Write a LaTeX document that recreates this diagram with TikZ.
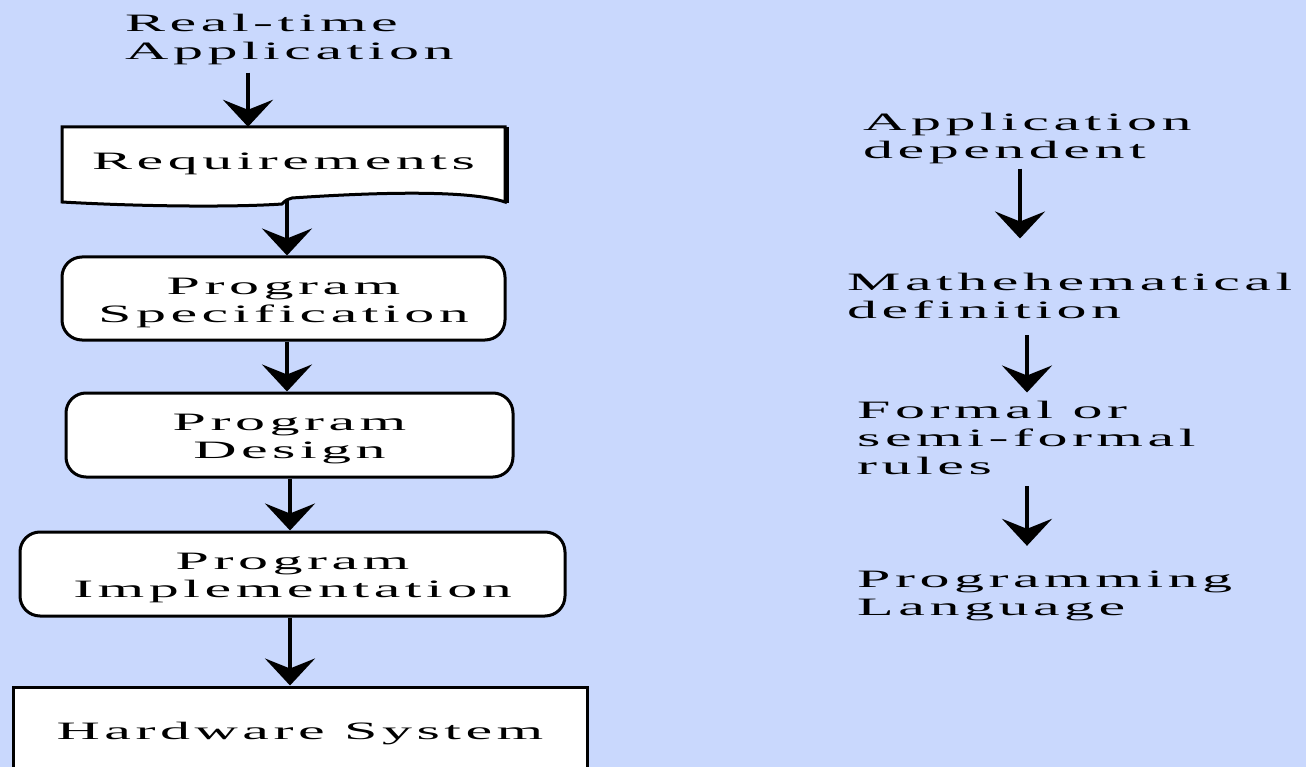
\documentclass[tikz,border=0pt]{standalone}
\usepackage{fontspec}
\setmainfont{Liberation Serif}[FakeStretch=2.4,LetterSpace=18]
\usetikzlibrary{arrows.meta}
\definecolor{bgblue}{RGB}{201,216,253}
\tikzset{
	defaultstyle/.style={
		x=1pt, y=-1pt,
		font=\fontsize{25}{28}\selectfont,
		every text node part/.style={align=center}}}

\begin{document}
\begin{tikzpicture}[defaultstyle,
	arr/.style={line width=3.5pt, -{Stealth[length=27pt,width=50pt,inset=10pt]}},
	lowtext/.style={execute at begin node={\rule{0pt}{24pt}}},
	flowbox/.style={draw, line width=3pt, fill=white, rounded corners=20pt, inner sep=0pt},
	hwbox/.style={draw, line width=3pt, fill=white, inner sep=0pt},
	boxtext/.style={inner sep=0pt, yshift=-4pt},
	note/.style={inner sep=0pt, anchor=west, every text node part/.style={align=left}},
	]

	\fill[bgblue] (0,0) rectangle (1306,767);
	\useasboundingbox (0,0) rectangle (1306,767);

	% left column
	\node[note] (rt) at (125, 39) {Real-time\\Application};

	\draw[line width=3pt, fill=white] (62,127) -- (505,127) -- (505,202)
		.. controls (470,190) and (380,192) .. (292,198)
		.. controls (286,200) .. (282,204)
		.. controls (240,207) and (150,207) .. (62,202) -- cycle;
	\draw[line width=5pt] (506,127) -- (506,203);
	\node[inner sep=0pt, minimum width=443pt, minimum height=66pt, lowtext] (req) at (283.5, 160) {Requirements};

	\node[flowbox, minimum width=443pt, minimum height=83pt] (spec) at (283.5, 298.5) {};
	\node[boxtext] (spectext) at (spec.center) {Program\\Specification};
	\node[flowbox, minimum width=447pt, minimum height=84pt] (design) at (289.5, 435) {};
	\node[boxtext] (designtext) at (design.center) {Program\\Design};
	\node[flowbox, minimum width=545pt, minimum height=84pt] (impl) at (292.5, 574) {};
	\node[boxtext] (impltext) at (impl.center) {Program\\Implementation};
	\node[hwbox, minimum width=574pt, minimum height=100pt] (hw) at (300, 737) {};
	\node[lowtext] (hwtext) at (hw.center |- 0,730) {Hardware System};

	\draw[arr, shorten <=8pt] (rt.south -| 248,0) -- (req.north -| 248,0);
	\draw[arr] ([yshift=-7pt]req.south -| 287,0) -- (spec.north -| 287,0);
	\draw[arr] (spec.south -| 287,0) -- (design.north -| 287,0);
	\draw[arr] (design.south -| 290,0) -- (impl.north -| 290,0);
	\draw[arr] (impl.south -| 290,0) -- (hw.north -| 290,0);

	% right column
	\node[note] (dep) at (863, 138) {Application\\dependent};
	\node[note] (math) at (847, 295.5) {Mathehematical\\definition};
	\node[note] (rules) at (857, 437.5) {Formal or\\semi-formal\\rules};
	\node[note] (lang) at (857, 596) {Programming\\Language};

	\draw[arr, shorten <=5pt, shorten >=34pt] (dep.south -| 1020,0) -- (math.north -| 1020,0);
	\draw[arr, shorten <=17pt, shorten >=8pt] (math.south -| 1027,0) -- (rules.north -| 1027,0);
	\draw[arr, shorten <=12pt, shorten >=25pt] (rules.south -| 1027,0) -- (lang.north -| 1027,0);

\end{tikzpicture}
\end{document}
